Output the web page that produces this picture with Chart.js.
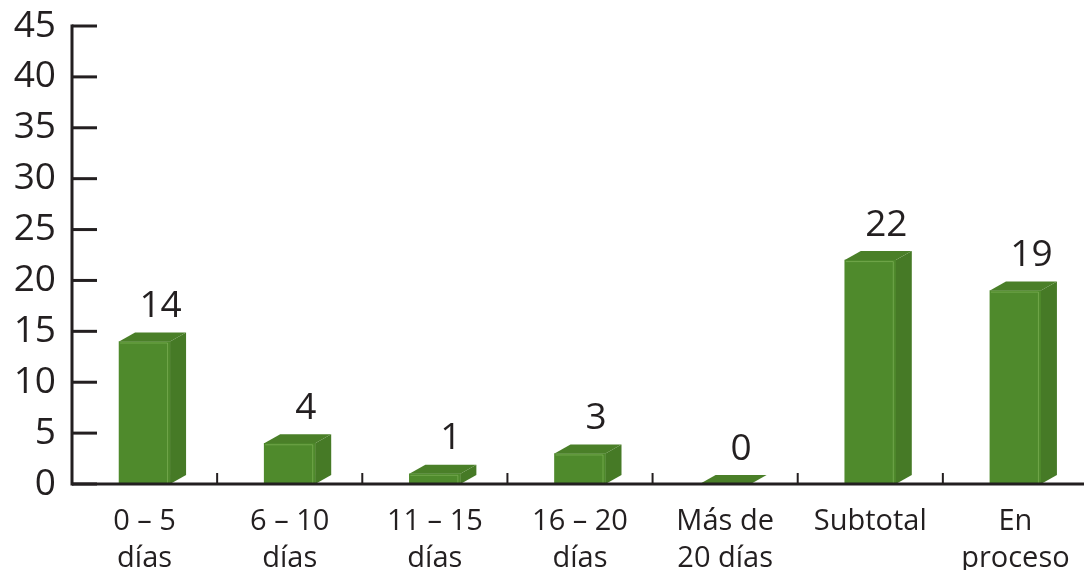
<!DOCTYPE html>
<html>
<head>
<meta charset="utf-8">
<script src="https://cdn.jsdelivr.net/npm/chart.js@4"></script>
<style>
html,body{margin:0;padding:0;background:#fff;overflow:hidden;}
#wrap{width:1088px;height:570px;}
</style>
</head>
<body>
<div id="wrap"><canvas id="c" width="1088" height="570"></canvas></div>
<script>
const categories = [
  ["0 – 5", "días"],
  ["6 – 10", "días"],
  ["11 – 15", "días"],
  ["16 – 20", "días"],
  ["Más de", "20 días"],
  ["Subtotal"],
  ["En", "proceso"]
];
const values = [14, 4, 1, 3, 0, 22, 19];
const yTicks = [0, 5, 10, 15, 20, 25, 30, 35, 40, 45];

const INK = '#231f20';
const FRONT = '#4f8a2c';
const TOP = '#4a7f28';
const SIDE = '#467a26';
const DX = 16, DY = 9;
const FONT = '"Open Sans", "DejaVu Sans", sans-serif';

const bars3d = {
  id: 'bars3d',
  afterDatasetsDraw(chart) {
    const ctx = chart.ctx;
    const meta = chart.getDatasetMeta(0);
    ctx.save();
    meta.data.forEach((bar, i) => {
      const w = bar.width;
      const l = bar.x - w / 2, r = bar.x + w / 2;
      const t = bar.y, b = bar.base;
      if (b - t > 0.5) {
        ctx.fillStyle = SIDE;
        ctx.beginPath();
        ctx.moveTo(r, t);
        ctx.lineTo(r + DX, t - DY);
        ctx.lineTo(r + DX, b - DY);
        ctx.lineTo(r, b);
        ctx.closePath();
        ctx.fill();
      }
      ctx.fillStyle = TOP;
      ctx.beginPath();
      ctx.moveTo(l, t);
      ctx.lineTo(l + DX, t - DY);
      ctx.lineTo(r + DX, t - DY);
      ctx.lineTo(r, t);
      ctx.closePath();
      ctx.fill();
      if (b - t > 4) {
        ctx.strokeStyle = 'rgba(140,190,100,0.55)';
        ctx.lineWidth = 1;
        ctx.beginPath();
        ctx.moveTo(l + 1, t + 1.5);
        ctx.lineTo(r - 2.5, t + 1.5);
        ctx.lineTo(r - 2.5, b);
        ctx.stroke();
      }
      ctx.fillStyle = INK;
      ctx.font = '37px ' + FONT;
      ctx.textAlign = 'center';
      ctx.textBaseline = 'middle';
      ctx.fillText(String(values[i]), bar.x + DX, t - DY - 26);
    });
    ctx.restore();
  },
  afterDraw(chart) {
    const ctx = chart.ctx;
    const ys = chart.scales.y, xs = chart.scales.x;
    const area = chart.chartArea;
    ctx.save();
    ctx.strokeStyle = INK;
    ctx.lineCap = 'butt';
    ctx.lineWidth = 3;
    ctx.beginPath();
    ctx.moveTo(area.left, ys.getPixelForValue(45) - 1.5);
    ctx.lineTo(area.left, ys.getPixelForValue(0) + 1.5);
    ctx.stroke();
    yTicks.forEach(v => {
      const py = ys.getPixelForValue(v);
      ctx.beginPath();
      ctx.moveTo(area.left, py);
      ctx.lineTo(area.left + 25, py);
      ctx.stroke();
    });
    const by = ys.getPixelForValue(0);
    ctx.beginPath();
    ctx.moveTo(area.left, by);
    ctx.lineTo(chart.width, by);
    ctx.stroke();
    ctx.lineWidth = 2;
    for (let i = 1; i < categories.length; i++) {
      const px = (xs.getPixelForValue(i - 1) + xs.getPixelForValue(i)) / 2;
      ctx.beginPath();
      ctx.moveTo(px, by);
      ctx.lineTo(px, by - 11);
      ctx.stroke();
    }
    ctx.restore();
  }
};

new Chart(document.getElementById('c'), {
  type: 'bar',
  data: {
    labels: categories,
    datasets: [{
      data: values,
      backgroundColor: FRONT,
      borderWidth: 0,
      barThickness: 51
    }]
  },
  options: {
    responsive: false,
    animation: false,
    events: [],
    layout: { padding: { top: 26, right: 0, left: 0, bottom: 0 } },
    plugins: { legend: { display: false }, tooltip: { enabled: false } },
    scales: {
      x: {
        offset: true,
        grid: { display: false, drawTicks: false },
        border: { display: false },
        ticks: {
          color: INK,
          font: { family: FONT, size: 29, lineHeight: 1.28 },
          padding: 19,
          maxRotation: 0,
          autoSkip: false
        },
        afterFit(scale) { scale.height = 86; scale.paddingLeft = 0; scale.paddingRight = 0; }
      },
      y: {
        min: 0,
        max: 45,
        grid: { display: false, drawTicks: false },
        border: { display: false },
        ticks: {
          stepSize: 5,
          color: INK,
          font: { family: FONT, size: 37 },
          padding: 16,
          callback: (v) => yTicks.includes(v) ? String(v) : ''
        },
        afterFit(scale) { scale.width = 72; scale.paddingTop = 0; scale.paddingBottom = 0; }
      }
    }
  },
  plugins: [bars3d]
});
</script>
</body>
</html>
